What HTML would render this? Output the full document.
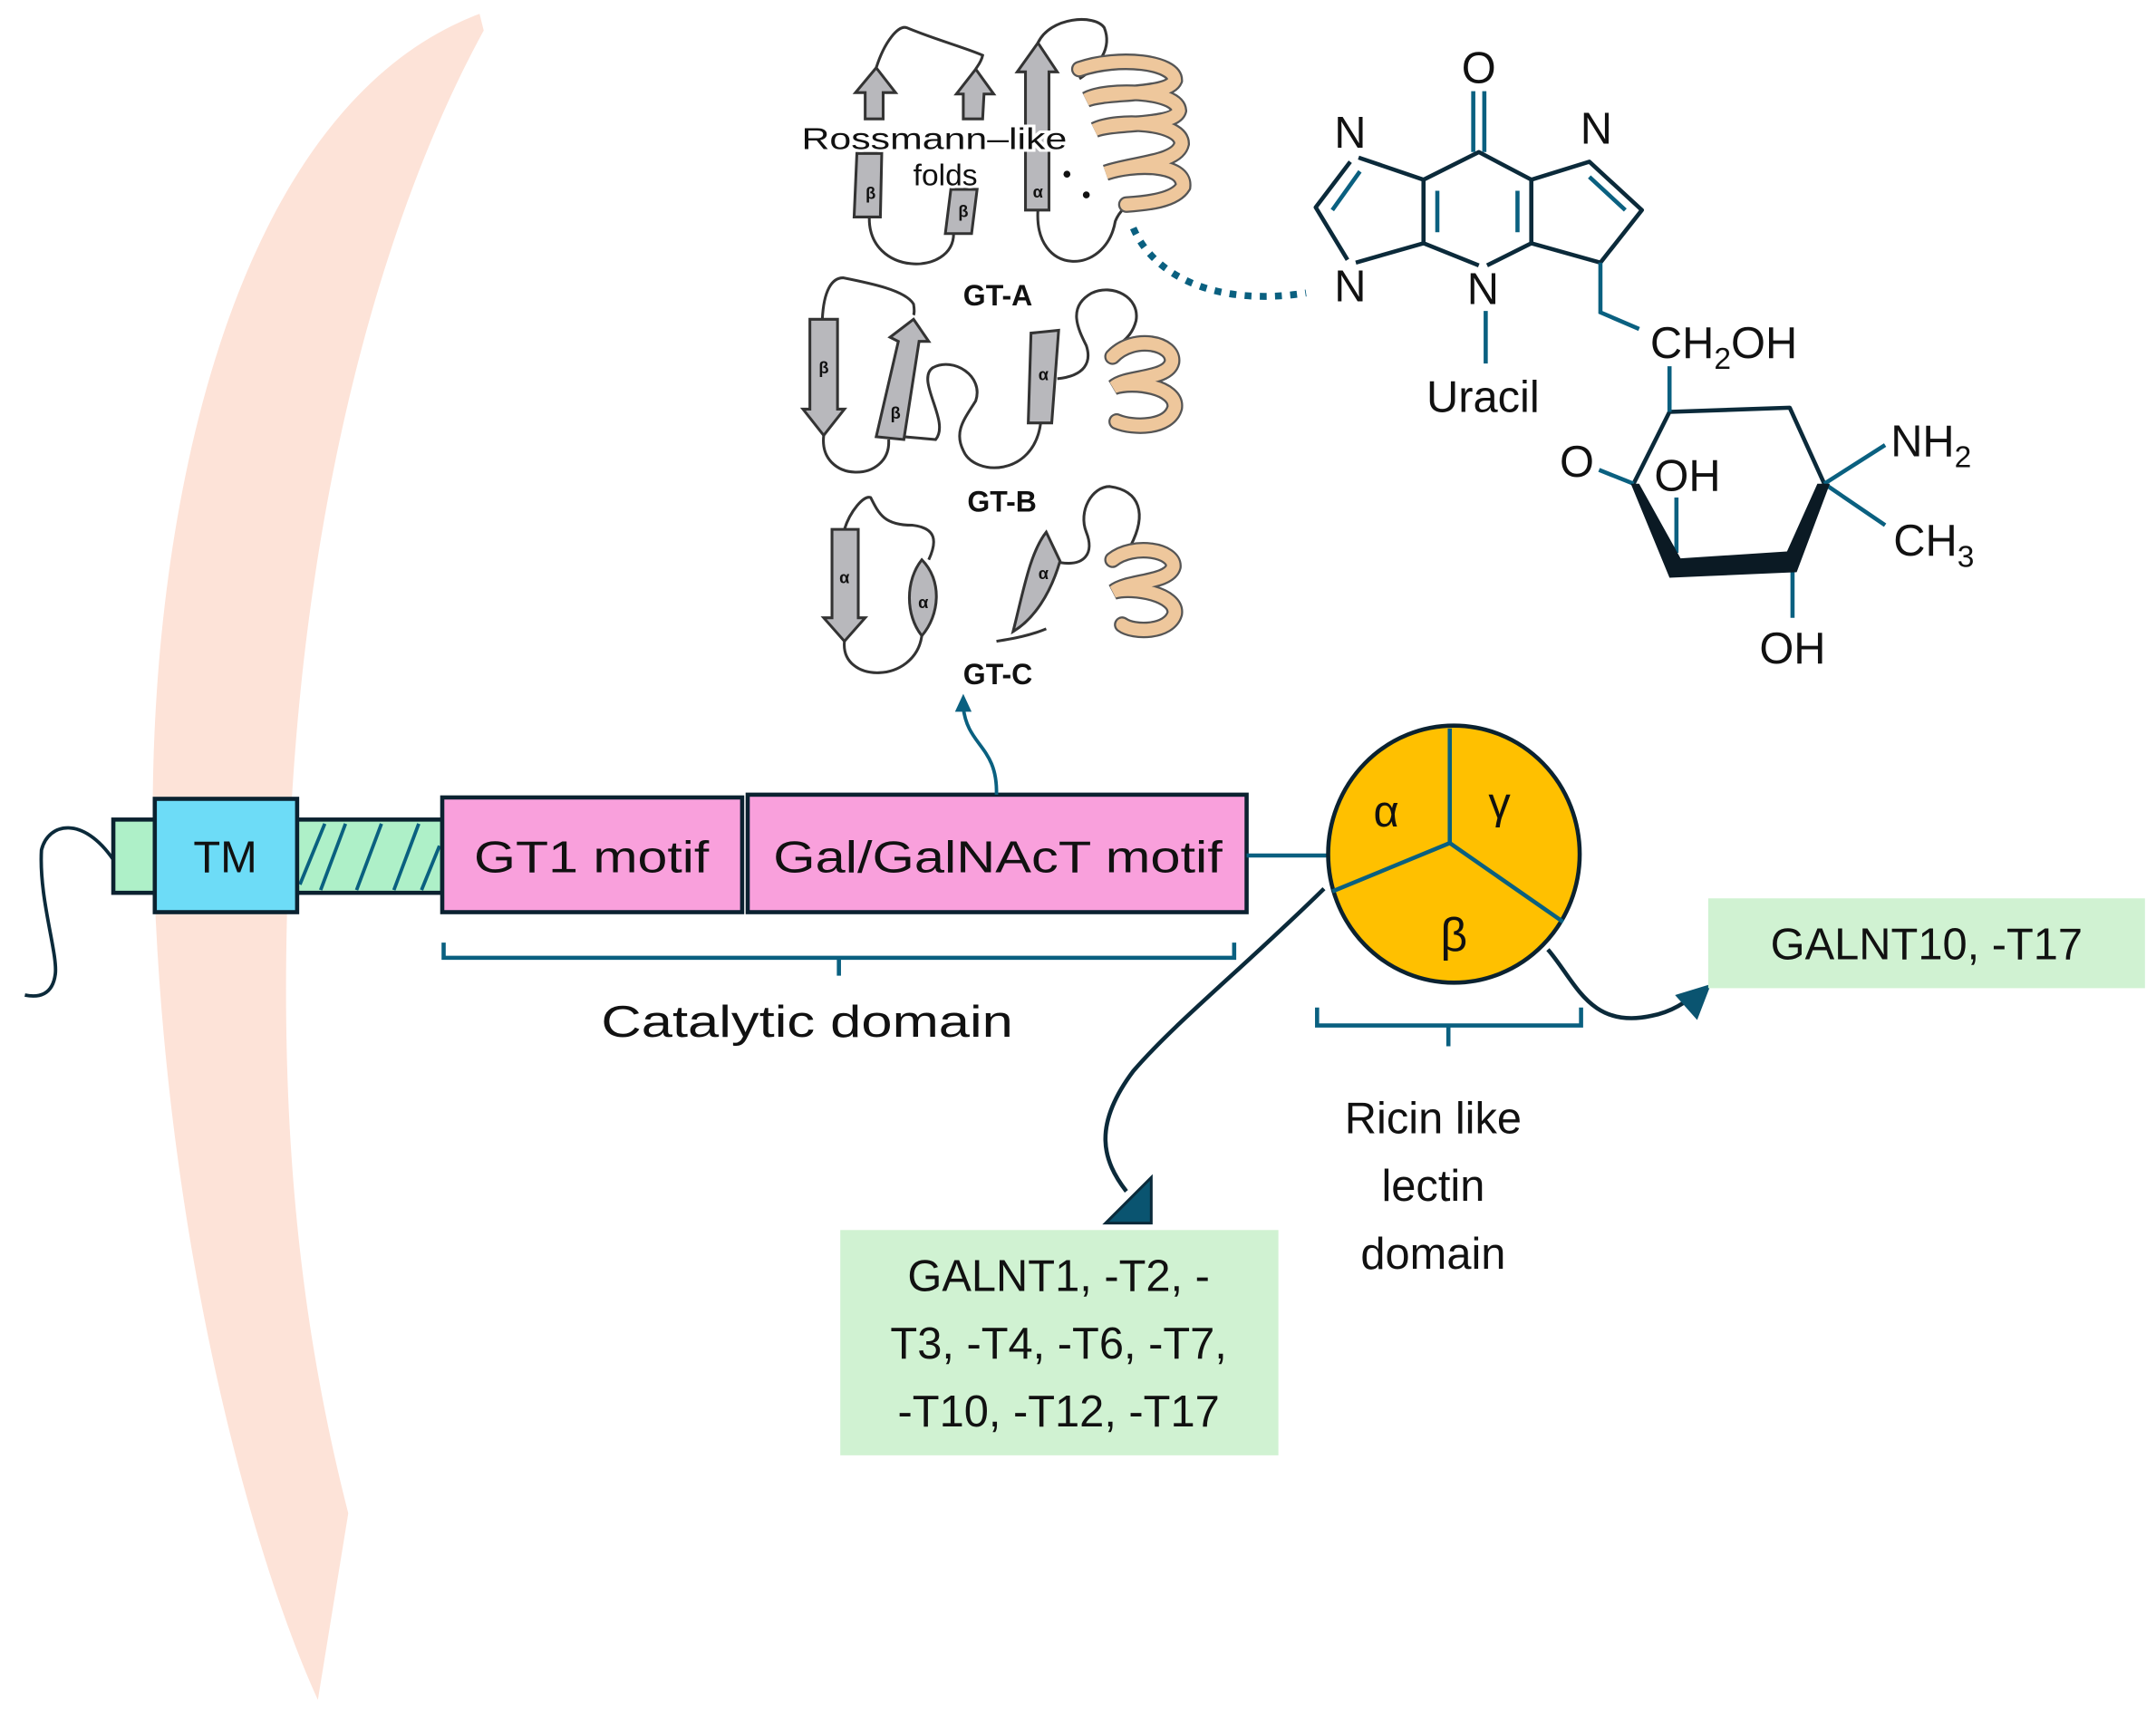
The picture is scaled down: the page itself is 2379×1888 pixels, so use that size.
<!DOCTYPE html>
<html><head><meta charset="utf-8"><style>
html,body{margin:0;padding:0;background:#fff;}
svg{display:block;}
text{font-family:"Liberation Sans",Arial,sans-serif;fill:#111;}
</style></head><body>
<svg width="2379" height="1888" viewBox="0 0 1560 1238" xmlns="http://www.w3.org/2000/svg">
<rect width="1560" height="1238" fill="#fff"/>
<path d="M347,10 C160,80 100,400 112,650 C122,900 180,1120 230,1230 L252,1095 C215,950 200,800 210,600 C222,350 280,150 350,22 Z" fill="#fde3d8"/>

<path d="M82,622 C60,590 35,595 30,615 C28,650 42,690 40,705 C38,720 28,722 18,720" fill="none" stroke="#0b2a3a" stroke-width="2.5"/>
<rect x="82" y="593" width="238" height="53" fill="#aef0c8" stroke="#0b2230" stroke-width="3"/>
<g stroke="#0a6080" stroke-width="2.5">
<line x1="217" y1="640" x2="235" y2="596"/><line x1="232" y1="644" x2="250" y2="596"/><line x1="258" y1="644" x2="276" y2="596"/><line x1="285" y1="644" x2="303" y2="596"/><line x1="305" y1="644" x2="318" y2="612"/>
</g>
<rect x="112" y="578" width="103" height="82" fill="#6ddcf7" stroke="#0b2230" stroke-width="3"/>
<text x="163" y="631" font-size="32" text-anchor="middle">TM</text>
<rect x="320" y="577" width="217" height="83" fill="#f9a0dc" stroke="#0b2230" stroke-width="3"/>
<text x="428" y="631" font-size="32" text-anchor="middle" textLength="170" lengthAdjust="spacingAndGlyphs">GT1 motif</text>
<rect x="541" y="575" width="361" height="85" fill="#f9a0dc" stroke="#0b2230" stroke-width="3"/>
<text x="722" y="631" font-size="32" text-anchor="middle" textLength="325" lengthAdjust="spacingAndGlyphs">Gal/GalNAcT motif</text>
<line x1="902" y1="619" x2="962" y2="619" stroke="#0a6080" stroke-width="3"/>

<ellipse cx="1052" cy="618" rx="91" ry="93" fill="#ffc000" stroke="#0b2230" stroke-width="3"/>
<g stroke="#0a6080" stroke-width="3" fill="none">
<line x1="1049" y1="527" x2="1049" y2="610"/><line x1="1049" y1="610" x2="964" y2="645"/><line x1="1049" y1="610" x2="1131" y2="667"/>
</g>
<text x="1003" y="598" font-size="32" text-anchor="middle">α</text>
<text x="1085" y="592" font-size="32" text-anchor="middle">γ</text>
<text x="1052" y="688" font-size="34" text-anchor="middle">β</text>

<path d="M321,682 V693 H893 V682 M607,693 V706" fill="none" stroke="#0a6080" stroke-width="3"/>
<text x="584" y="750" font-size="32" text-anchor="middle" textLength="298" lengthAdjust="spacingAndGlyphs">Catalytic domain</text>
<path d="M953,729 V742 H1144 V729 M1048,742 V757" fill="none" stroke="#0a6080" stroke-width="3"/>
<text x="1037" y="820" font-size="32" text-anchor="middle">Ricin like</text>
<text x="1037" y="869" font-size="32" text-anchor="middle">lectin</text>
<text x="1037" y="918" font-size="32" text-anchor="middle">domain</text>

<path d="M721,575 C722,540 700,540 697,512" fill="none" stroke="#0a6080" stroke-width="2.5"/>
<polygon points="697,502 691,515 703,515" fill="#0a6080"/>

<path d="M958,643 C900,700 850,740 820,775 C790,815 798,840 815,862" fill="none" stroke="#0b2a3a" stroke-width="3"/>
<polygon points="833,852 833,885 800,885" fill="#0a5470" stroke="#0b2a3a" stroke-width="2"/>
<rect x="608" y="890" width="317" height="163" fill="#d0f2d2"/>
<text x="766" y="934" font-size="32" text-anchor="middle">GALNT1, -T2, -</text>
<text x="766" y="983" font-size="32" text-anchor="middle">T3, -T4, -T6, -T7,</text>
<text x="766" y="1032" font-size="32" text-anchor="middle">-T10, -T12, -T17</text>

<path d="M1120,687 C1140,710 1150,745 1195,735 C1210,732 1220,725 1228,718" fill="none" stroke="#0b2a3a" stroke-width="3"/>
<polygon points="1238,712 1212,720 1228,738" fill="#0a5470"/>
<rect x="1236" y="650" width="316" height="65" fill="#d0f2d2"/>
<text x="1394" y="694" font-size="32" text-anchor="middle">GALNT10, -T17</text>

<path d="M820,165 C835,200 880,222 945,212" fill="none" stroke="#0a6080" stroke-width="5" stroke-dasharray="5,6"/>

<g fill="none" stroke="#333" stroke-width="2">
<path d="M634,49 C640,30 650,18 656,20 C675,28 700,35 711,40 C710,45 707,48 706,50"/>
<path d="M629,157 C628,200 690,200 690,169"/>
<path d="M751,152 C748,200 800,200 807,160 C815,140 840,142 856,139"/>
<path d="M751,31 C760,12 792,10 799,20 C805,35 795,48 781,57"/>
<path d="M595,231 C596,210 602,201 610,201 C630,205 655,210 661,220 C662,226 661,228 661,228"/>
<path d="M596,315 C592,350 645,350 643,318"/>
<path d="M654,316 L677,318 C688,305 662,275 675,266 C690,258 712,272 706,290 C698,303 690,312 697,326 C705,345 748,345 753,306"/>
<path d="M765,274 C785,272 790,262 786,250 C780,238 772,222 790,212 C805,205 825,215 822,232 C820,240 815,246 808,250"/>
<path d="M611,383 C615,370 625,358 630,360 C636,372 640,380 660,380 C678,382 678,392 672,405"/>
<path d="M611,464 C608,495 662,495 667,460"/>
<path d="M767,407 C785,410 792,400 786,385 C780,370 790,352 803,352 C825,355 830,372 818,395"/>
<path d="M721,464 C733,462 745,460 757,455"/>
</g>
<g fill="#b8b8bc" stroke="#333" stroke-width="2">
<polygon points="634,49 619,67 626,67 626,86 639,86 639,67 648,67"/>
<polygon points="620,111 638,111 637,157 618,157"/>
<polygon points="706,50 692,68 697,68 697,86 711,86 712,68 719,68"/>
<polygon points="688,137 707,137 703,169 684,169"/>
<polygon points="751,31 736,52 742,52 742,152 759,152 759,52 765,52"/>
<polygon points="586,231 606,231 606,296 611,296 596,315 581,296 586,296"/>
<polygon points="661,231 672,247 665,247 654,318 634,316 650,247 644,244"/>
<polygon points="746,241 766,239 761,306 744,306"/>
<polygon points="602,383 621,383 621,447 626,447 611,464 596,447 602,447"/>
<path d="M667,405 C655,420 655,445 667,460 C680,445 682,420 667,405 Z"/>
<path d="M733,457 C740,430 745,400 757,385 L767,406 C760,430 748,448 733,457 Z"/>
</g>
<g fill="none" stroke-linecap="round">
<g stroke="#555" stroke-width="12">
<path d="M781,50 C810,40 850,45 850,58 C845,70 800,66 786,72 C800,64 852,65 853,80 C850,92 805,88 792,94 C808,86 855,88 855,104 C852,118 820,118 800,125 C820,118 858,118 856,135 C850,145 830,147 815,148"/>
<path d="M805,258 C820,242 850,248 848,262 C845,275 815,272 806,280 C820,275 852,280 850,295 C846,310 820,310 808,305"/>
<path d="M805,405 C820,393 850,398 849,410 C846,422 816,420 806,428 C820,424 852,430 850,444 C846,458 820,458 812,452"/>
</g>
<g stroke="#eec79c" stroke-width="9">
<path d="M781,50 C810,40 850,45 850,58 C845,70 800,66 786,72 C800,64 852,65 853,80 C850,92 805,88 792,94 C808,86 855,88 855,104 C852,118 820,118 800,125 C820,118 858,118 856,135 C850,145 830,147 815,148"/>
<path d="M805,258 C820,242 850,248 848,262 C845,275 815,272 806,280 C820,275 852,280 850,295 C846,310 820,310 808,305"/>
<path d="M805,405 C820,393 850,398 849,410 C846,422 816,420 806,428 C820,424 852,430 850,444 C846,458 820,458 812,452"/>
</g>
</g>
<g font-size="12" text-anchor="middle" font-weight="bold" fill="#333">
<text x="630" y="144">β</text><text x="697" y="157">β</text><text x="751" y="143">α</text>
<text x="596" y="270">β</text><text x="648" y="303">β</text><text x="755" y="275">α</text>
<text x="611" y="422">α</text><text x="668" y="440">α</text><text x="755" y="419">α</text>
</g>
<circle cx="772" cy="126" r="2.5" fill="#111"/><circle cx="786" cy="141" r="2.5" fill="#111"/>
<text x="676" y="108" font-size="22" text-anchor="middle" stroke="#fff" stroke-width="4" paint-order="stroke" textLength="192" lengthAdjust="spacingAndGlyphs">Rossmann–like</text>
<text x="684" y="134" font-size="22" text-anchor="middle" stroke="#fff" stroke-width="4" paint-order="stroke">folds</text>
<text x="722" y="221" font-size="21" text-anchor="middle" font-weight="bold" fill="#222">GT-A</text>
<text x="725" y="370" font-size="21" text-anchor="middle" font-weight="bold" fill="#222">GT-B</text>
<text x="722" y="495" font-size="21" text-anchor="middle" font-weight="bold" fill="#222">GT-C</text>

<!-- molecule -->
<g fill="none" stroke="#0b2a3a" stroke-width="3" stroke-linejoin="round">
<path d="M1070,192 L1030,176 L1030,130 L1070,110 L1108,130 L1108,176 L1076,192"/>
<path d="M1030,130 L983,114 M977,117 L952,150 L975,188 M981,190 L1030,176"/>
<path d="M1108,130 L1150,117 L1188,152 L1158,190 L1108,176"/>
<path d="M1208,298 L1295,295 L1320,350 M1208,298 L1182,350"/>
</g>
<g fill="none" stroke="#0a6080" stroke-width="3">
<line x1="1066" y1="66" x2="1066" y2="110"/><line x1="1074" y1="66" x2="1074" y2="110"/>
<line x1="1040" y1="138" x2="1040" y2="168"/><line x1="1098" y1="138" x2="1098" y2="168"/>
<line x1="984" y1="124" x2="964" y2="152"/><line x1="1150" y1="128" x2="1176" y2="152"/>
<line x1="1075" y1="225" x2="1075" y2="263"/>
<path d="M1158,190 L1158,226 L1186,238"/>
<line x1="1208" y1="265" x2="1208" y2="298"/>
<line x1="1157" y1="340" x2="1182" y2="350"/>
<line x1="1213" y1="360" x2="1213" y2="400"/>
<line x1="1320" y1="350" x2="1364" y2="322"/><line x1="1320" y1="350" x2="1364" y2="380"/>
<line x1="1297" y1="408" x2="1297" y2="447"/>
</g>
<polygon points="1180,350 1186,350 1216,404 1293,399 1315,350 1324,350 1300,414 1208,418" fill="#0b1a24"/>
<g font-size="32">
<text x="1070" y="60" text-anchor="middle">O</text>
<text x="977" y="107" text-anchor="middle">N</text>
<text x="1155" y="104" text-anchor="middle">N</text>
<text x="977" y="218" text-anchor="middle">N</text>
<text x="1073" y="220" text-anchor="middle">N</text>
<text x="1073" y="298" text-anchor="middle">Uracil</text>
<text x="1194" y="259">CH<tspan font-size="22" dy="8">2</tspan><tspan dy="-8">OH</tspan></text>
<text x="1141" y="345" text-anchor="middle">O</text>
<text x="1197" y="355">OH</text>
<text x="1368" y="330">NH<tspan font-size="22" dy="8">2</tspan></text>
<text x="1370" y="402">CH<tspan font-size="22" dy="8">3</tspan></text>
<text x="1297" y="480" text-anchor="middle">OH</text>
</g>
</svg>
</body></html>
